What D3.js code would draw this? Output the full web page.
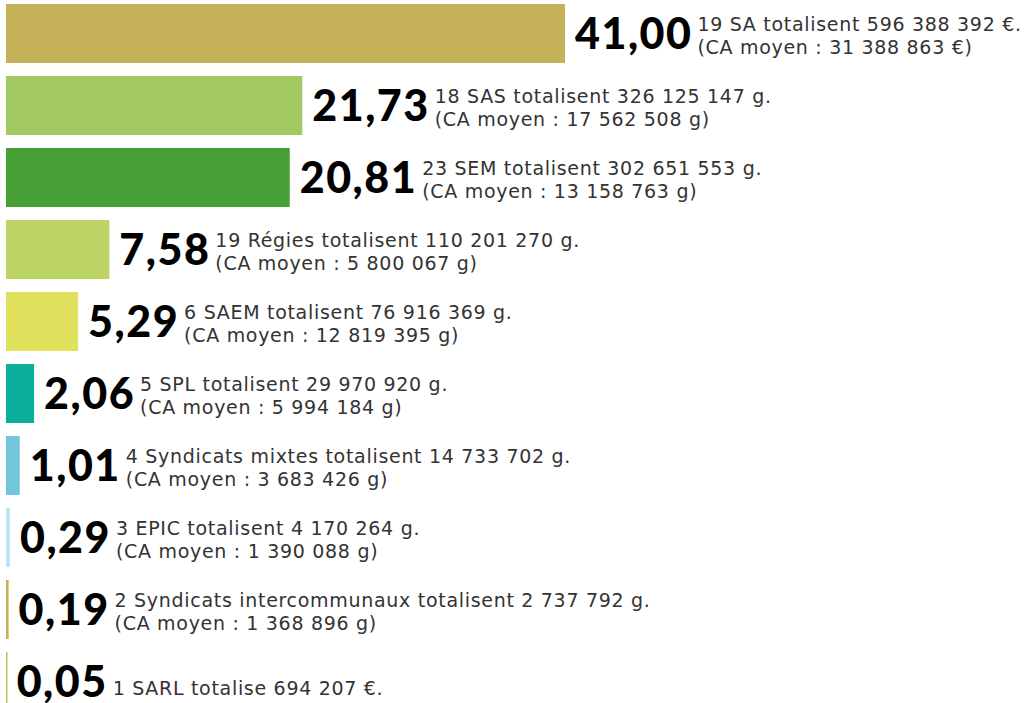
<!DOCTYPE html>
<html>
<head>
<meta charset="utf-8">
<script src="https://cdn.jsdelivr.net/npm/d3@7"></script>
<style>
  html, body { margin: 0; padding: 0; background: #fff; overflow: hidden; }
  .num { font-family: Lato, Inter, sans-serif; font-weight: 900; fill: #000; }
  .desc { font-family: "DejaVu Sans", sans-serif; font-weight: 400; fill: #333; }
</style>
</head>
<body>
<script>
// share of total turnover, by legal form
var categories = ["SA", "SAS", "SEM", "Régies", "SAEM", "SPL", "Syndicats mixtes", "EPIC", "Syndicats intercommunaux", "SARL"];
var values = [41.00, 21.73, 20.81, 7.58, 5.29, 2.06, 1.01, 0.29, 0.19, 0.05];
var firstLines = [
	"19 SA totalisent 596 388 392 €.",
	"18 SAS totalisent 326 125 147 g.",
	"23 SEM totalisent 302 651 553 g.",
	"19 Régies totalisent 110 201 270 g.",
	"6 SAEM totalisent 76 916 369 g.",
	"5 SPL totalisent 29 970 920 g.",
	"4 Syndicats mixtes totalisent 14 733 702 g.",
	"3 EPIC totalisent 4 170 264 g.",
	"2 Syndicats intercommunaux totalisent 2 737 792 g.",
	"1 SARL totalise 694 207 €."
];
var secondLines = [
	"(CA moyen : 31 388 863 €)",
	"(CA moyen : 17 562 508 g)",
	"(CA moyen : 13 158 763 g)",
	"(CA moyen : 5 800 067 g)",
	"(CA moyen : 12 819 395 g)",
	"(CA moyen : 5 994 184 g)",
	"(CA moyen : 3 683 426 g)",
	"(CA moyen : 1 390 088 g)",
	"(CA moyen : 1 368 896 g)",
	""
];
var colors = ["#c4b158", "#a3c963", "#46a035", "#bcd464", "#dfe05b", "#0bb09d", "#71c7d9", "#bfe4f6", "#c6b04f", "#a8cc5f"];

var width = 1027,
	height = 703;

var svg = d3.select("body")
	.append("svg")
	.attr("width", width)
	.attr("height", height);

var x = d3.scaleLinear()
	.domain([0, 41])
	.range([6, 565]);

var y = d3.scaleBand()
	.domain(categories)
	.range([4, 711])
	.paddingInner(13 / 72);

var fmt = function (v) { return d3.format(".2f")(v).replace(".", ","); };

var rows = svg.selectAll(".row")
	.data(categories)
	.enter()
	.append("g")
	.attr("class", "row");

rows.append("rect")
	.attr("x", x(0))
	.attr("y", function (d) { return y(d); })
	.attr("width", function (d, i) { return Math.max(1.5, x(values[i]) - x(0)); })
	.attr("height", y.bandwidth())
	.attr("fill", function (d, i) { return colors[i]; });

// big value, then the two lines of description right after it
rows.each(function (d, i) {
	var g = d3.select(this);
	var cy = y(d) + y.bandwidth() / 2;
	var num = g.append("text")
		.attr("class", "num")
		.attr("x", x(values[i]) + 10)
		.attr("y", cy + 15)
		.style("font-size", "43px")
		.style("letter-spacing", "1.5px")
		.text(fmt(values[i]));
	var nx = x(values[i]) + 10 + num.node().getComputedTextLength() + 5;
	var lines = secondLines[i] ? [[firstLines[i], cy - 3], [secondLines[i], cy + 20]] : [[firstLines[i], cy + 13]];
	lines.forEach(function (l) {
		g.append("text")
			.attr("class", "desc")
			.attr("x", nx)
			.attr("y", l[1])
			.style("font-size", "19px")
			.style("letter-spacing", "0.7px")
			.text(l[0]);
	});
});
</script>
</body>
</html>
